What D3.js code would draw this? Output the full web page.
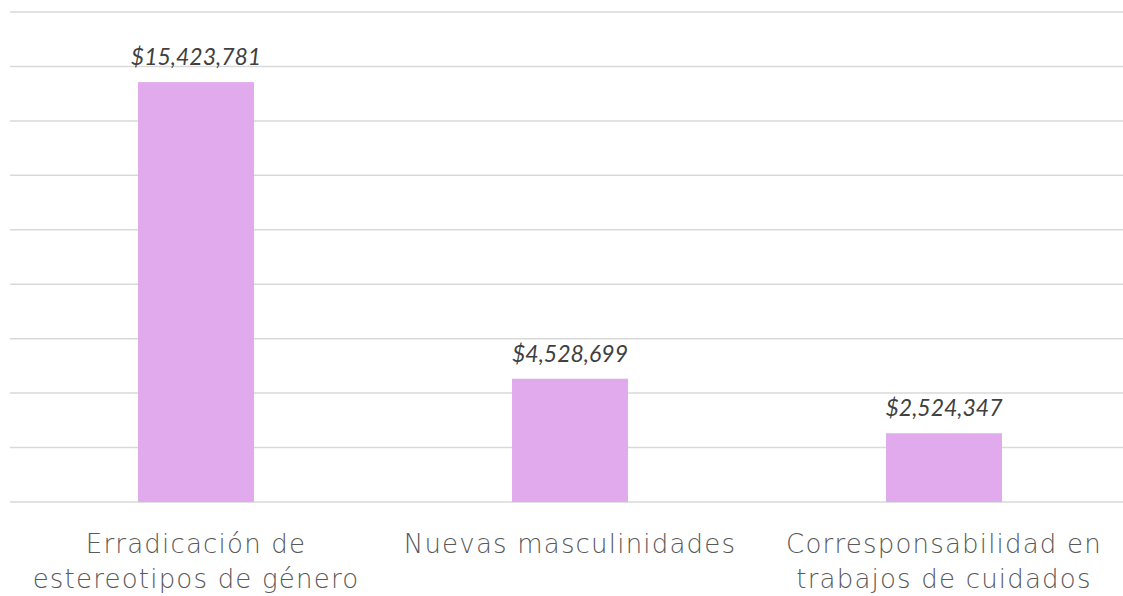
<!DOCTYPE html>
<html>
<head>
<meta charset="utf-8">
<script src="https://cdn.jsdelivr.net/npm/d3@7"></script>
<style>
    body { margin: 0; background: #fff; }
</style>
</head>
<body>
<div id="chart"></div>
<script>
// Chart data
const categories = ["Erradicación de estereotipos de género", "Nuevas masculinidades", "Corresponsabilidad en trabajos de cuidados"];
const categoryLines = [
    ["Erradicación de", "estereotipos de género"],
    ["Nuevas masculinidades"],
    ["Corresponsabilidad en", "trabajos de cuidados"]
];
const amounts = [15423781, 4528699, 2524347];
const gridTicks = [0, 2e6, 4e6, 6e6, 8e6, 10e6, 12e6, 14e6, 16e6, 18e6];

const width = 1123;
const height = 596;
const margin = { top: 12, right: -8, bottom: 94, left: 9 };

const svg = d3.select("#chart")
    .append("svg")
    .attr("width", width)
    .attr("height", height);

// Scales
const x = d3.scaleBand()
    .domain(categories)
    .range([margin.left, width - margin.right])
    .paddingInner(0.69)
    .paddingOuter(0.345);

const y = d3.scaleLinear()
    .domain([0, 18e6])
    .range([height - margin.bottom, margin.top]);

// Horizontal grid lines
svg.append("g")
    .selectAll("line")
    .data(gridTicks)
    .enter()
    .append("line")
    .attr("x1", 10)
    .attr("x2", width)
    .attr("y1", d => y(d))
    .attr("y2", d => y(d))
    .attr("stroke", "#d9d9d9")
    .attr("stroke-width", 1.5);

// Bars
svg.selectAll("rect.bar")
    .data(amounts)
    .enter()
    .append("rect")
    .attr("class", "bar")
    .attr("x", (d, i) => x(categories[i]))
    .attr("y", d => y(d))
    .attr("width", x.bandwidth())
    .attr("height", d => y(0) - y(d))
    .attr("fill", "#e1aaec");

// Value labels
const fmt = d3.format(",");
svg.selectAll("text.value")
    .data(amounts)
    .enter()
    .append("text")
    .attr("class", "value")
    .attr("x", (d, i) => x(categories[i]) + x.bandwidth() / 2)
    .attr("y", d => y(d) - 17)
    .attr("text-anchor", "middle")
    .style("font-family", "Lato, 'Open Sans', sans-serif")
    .style("font-style", "italic")
    .style("font-size", "23px")
    .style("fill", "#404040")
    .text(d => "$" + fmt(d));

// X-axis labels
const labels = svg.selectAll("text.cat")
    .data(categoryLines)
    .enter()
    .append("text")
    .attr("class", "cat")
    .attr("text-anchor", "middle")
    .style("font-family", "'DejaVu Sans', sans-serif")
    .style("font-weight", "200")
    .style("font-size", "26px")
    .style("letter-spacing", "1.2px")
    .style("fill", "#595959");

labels.selectAll("tspan")
    .data((d, i) => d.map(line => ({ line, i })))
    .enter()
    .append("tspan")
    .attr("x", d => x(categories[d.i]) + x.bandwidth() / 2)
    .attr("y", (d, j) => 553 + j * 35)
    .text(d => d.line);
</script>
</body>
</html>
